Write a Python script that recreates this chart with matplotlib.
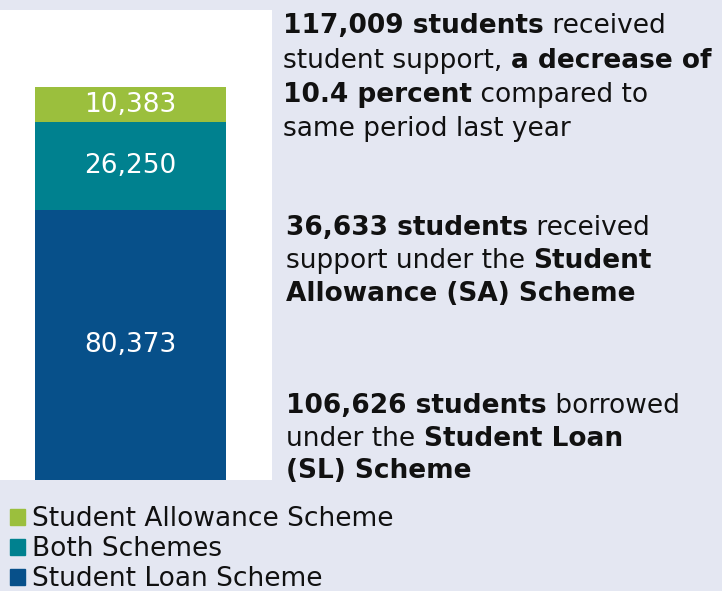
import matplotlib.pyplot as plt
from matplotlib.patches import Patch

# stacked from the bottom up
categories = ['Student Loan Scheme', 'Both Schemes', 'Student Allowance Scheme']
counts = [80373, 26250, 10383]
bar_colors = ['#07508A', '#00818F', '#9BBF3D']

# side notes: each line is a list of (text, bold)
notes = [
    [[('117,009 students', True), (' received', False)],
     [('student support, ', False), ('a decrease of', True)],
     [('10.4 percent', True), (' compared to', False)],
     [('same period last year', False)]],
    [[('36,633 students', True), (' received', False)],
     [('support under the ', False), ('Student', True)],
     [('Allowance (SA) Scheme', True)]],
    [[('106,626 students', True), (' borrowed', False)],
     [('under the ', False), ('Student Loan', True)],
     [('(SL) Scheme', True)]],
]

bg = '#E4E7F2'
ink = '#111111'
plt.rcParams['font.family'] = 'DejaVu Sans'

fig = plt.figure(figsize=(7.22, 5.91), dpi=100, facecolor=bg)

# bar panel (white box on the left)
ax = fig.add_axes([0, 111 / 591, 272 / 722, 470 / 591])
ax.set_facecolor('white')
bottom = 0
for cat, v, c in zip(categories, counts, bar_colors):
    ax.bar(0, v, width=0.7, bottom=bottom, color=c, label=cat)
    ax.text(0, bottom + v / 2, f'{v:,}', ha='center', va='center',
            color='white', fontsize=19)
    bottom += v
ax.set_ylim(0, 140000)
ax.set_xlim(-0.478, 0.519)
ax.set_xticks([])
ax.set_yticks([])
for s in ax.spines.values():
    s.set_visible(False)

# overlay in pixel units for the text blocks
ov = fig.add_axes([0, 0, 1, 1])
ov.set_xlim(0, 722)
ov.set_ylim(591, 0)
ov.axis('off')

block_pos = [(283, 33, 34.5), (286, 235, 33), (286, 413, 32.5)]
for block, (bx, by, step) in zip(notes, block_pos):
    for i, line in enumerate(block):
        prev = None
        for txt, bold in line:
            w = 'bold' if bold else 'normal'
            if prev is None:
                prev = ov.text(bx, by + i * step, txt, va='baseline', ha='left',
                               fontsize=19, fontweight=w, color=ink)
            else:
                prev = ov.annotate(txt, xy=(1, 0), xycoords=prev, va='bottom',
                                   ha='left', fontsize=19, fontweight=w, color=ink)

handles = [Patch(color=c, label=cat) for cat, c in zip(categories, bar_colors)][::-1]
fig.legend(handles=handles, loc='upper left', bbox_to_anchor=(10 / 722, 1 - 506 / 591),
           frameon=False, fontsize=19, handlelength=0.55, handleheight=0.55,
           handletextpad=0.3, labelspacing=0.15, borderpad=0, borderaxespad=0,
           labelcolor=ink)

fig.savefig('out.png', dpi=100, facecolor=bg)
